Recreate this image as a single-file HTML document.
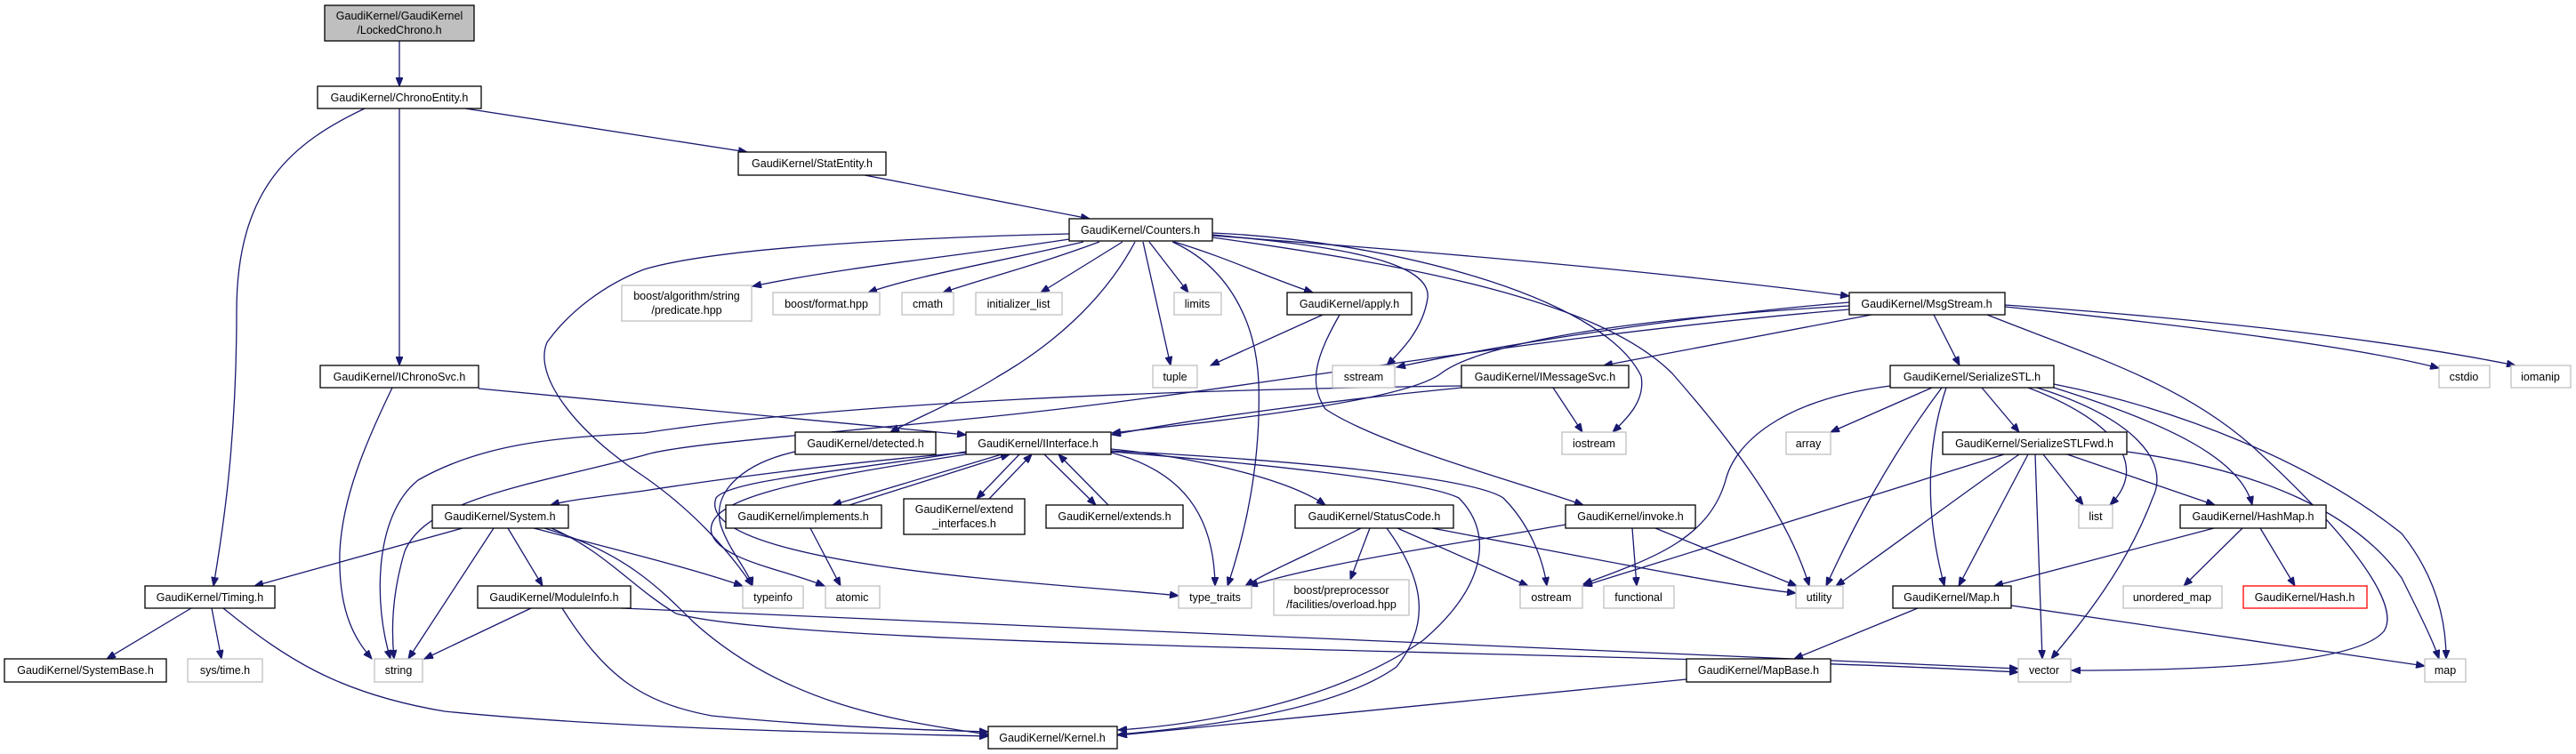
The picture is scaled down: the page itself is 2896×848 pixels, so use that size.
<!DOCTYPE html>
<html><head><meta charset="utf-8"><style>
html,body{margin:0;padding:0;background:#fff;}
svg{display:block;}
text{font-family:"Liberation Sans",Arial,sans-serif;font-size:12.5px;fill:#000;text-anchor:middle;}
.n{fill:#fff;stroke:#000;stroke-width:1.3;}
.x{fill:#fff;stroke:#bfbfbf;stroke-width:1.3;}
.r{fill:#fff;stroke:#ff0000;stroke-width:1.3;}
.g{fill:#bfbfbf;stroke:#000;stroke-width:1.3;}
.e{fill:none;stroke:#191970;stroke-width:1.3;marker-end:url(#a);}
</style></head><body>
<svg width="2896" height="848" viewBox="0 0 2896 848" xmlns="http://www.w3.org/2000/svg">
<defs><marker id="a" markerUnits="userSpaceOnUse" markerWidth="11" markerHeight="8" refX="10" refY="4" orient="auto"><path d="M0,0 L10,4 L0,8 z" fill="#191970" stroke="#191970"/></marker></defs>

<!-- edges -->
<path class="e" d="M449,46 L449,97"/>
<path class="e" d="M410,122 C330,160 266,210 266,350 C266,500 250,600 240,659"/>
<path class="e" d="M449,122 L449,411"/>
<path class="e" d="M523,122 L840,171"/>
<path class="e" d="M972,197 L1225,246"/>
<path class="e" d="M1202,269 C1100,285 950,300 846,322"/>
<path class="e" d="M1218,272 C1120,295 1030,310 976,329"/>
<path class="e" d="M1236,272 C1160,300 1100,315 1060,329"/>
<path class="e" d="M1262,272 L1170,329"/>
<path class="e" d="M1292,272 L1336,329"/>
<path class="e" d="M1285,272 L1316,411"/>
<path class="e" d="M1318,272 C1380,300 1412,360 1415,430 C1418,520 1400,600 1380,659"/>
<path class="e" d="M1202,263 C1000,268 800,280 724,303 C680,320 640,350 615,385 C600,420 640,480 724,536 C780,575 820,620 846,659"/>
<path class="e" d="M1276,272 C1240,340 1180,390 1121,424 C1080,450 1030,470 1001,486"/>
<path class="e" d="M1320,272 C1380,290 1420,310 1476,329"/>
<path class="e" d="M1363,264 C1480,275 1610,290 1605,335 C1600,370 1575,395 1559,411"/>
<path class="e" d="M1363,262 C1550,270 1800,330 1845,423 C1850,450 1830,470 1813,486"/>
<path class="e" d="M1363,267 C1600,300 1800,340 1880,420 C1950,500 2010,580 2034,659"/>
<path class="e" d="M1363,265 C1700,290 1900,310 2079,333"/>
<path class="e" d="M1487,354 L1361,411"/>
<path class="e" d="M1506,354 C1480,400 1470,430 1490,460 C1550,500 1700,540 1780,568"/>
<path class="e" d="M2079,340 C1900,355 1700,385 1570,413"/>
<path class="e" d="M2104,354 L1803,411"/>
<path class="e" d="M2174,354 L2203,411"/>
<path class="e" d="M2254,345 C2450,365 2650,390 2742,414"/>
<path class="e" d="M2254,343 C2500,360 2700,385 2828,411"/>
<path class="e" d="M2234,354 C2350,400 2450,430 2530,500 C2640,600 2700,680 2680,710 C2650,745 2500,754 2329,754"/>
<path class="e" d="M2079,344 C1800,360 1660,390 1620,420 C1580,450 1400,470 1250,487"/>
<path class="e" d="M1643,436 C1500,450 1350,470 1250,489"/>
<path class="e" d="M1643,434 C1200,440 900,460 724,487 C620,492 540,500 470,540 C420,580 420,680 439,741"/>
<path class="e" d="M2079,348 C1700,380 1400,440 1100,470 C900,490 760,500 724,512 C600,545 480,560 455,620 C440,670 440,710 443,741"/>
<path class="e" d="M1746,436 L1779,486"/>
<path class="e" d="M441,436 C410,500 385,560 382,620 C380,690 400,720 418,741"/>
<path class="e" d="M538,437 L1086,489"/>
<path class="e" d="M1086,509 C950,520 800,540 724,552 C680,558 640,562 619,568"/>
<path class="e" d="M1126,511 L936,568"/>
<path class="e" d="M955,568 L1135,511"/>
<path class="e" d="M1146,511 L1098,561"/>
<path class="e" d="M1112,561 L1160,511"/>
<path class="e" d="M1174,511 L1232,568"/>
<path class="e" d="M1246,568 L1190,511"/>
<path class="e" d="M1249,509 C1330,530 1365,580 1366,659"/>
<path class="e" d="M894,508 C840,520 800,550 810,590 C820,620 840,640 846,659"/>
<path class="e" d="M1086,508 C950,530 820,540 805,560 C790,600 900,630 1100,650 C1200,660 1280,665 1325,670"/>
<path class="e" d="M1086,511 C900,540 790,560 800,600 C810,630 880,640 927,659"/>
<path class="e" d="M911,594 L945,659"/>
<path class="e" d="M1249,505 C1350,515 1450,540 1490,568"/>
<path class="e" d="M1249,507 C1500,520 1660,540 1690,560 C1720,590 1735,630 1739,659"/>
<path class="e" d="M1249,508 C1400,520 1600,540 1640,560 C1680,600 1670,660 1600,720 C1500,790 1350,815 1257,821"/>
<path class="e" d="M520,594 L286,659"/>
<path class="e" d="M555,594 L459,741"/>
<path class="e" d="M571,594 L610,659"/>
<path class="e" d="M600,594 C700,620 780,640 835,659"/>
<path class="e" d="M612,594 C700,620 740,660 780,700 C880,790 1000,810 1111,826"/>
<path class="e" d="M620,594 C680,620 710,660 760,690 C900,730 1800,730 2269,756"/>
<path class="e" d="M597,684 L477,741"/>
<path class="e" d="M632,684 C680,760 720,790 800,805 C900,815 1000,820 1111,823"/>
<path class="e" d="M699,684 C1000,700 1600,725 2269,752"/>
<path class="e" d="M215,684 L120,741"/>
<path class="e" d="M238,684 L249,741"/>
<path class="e" d="M251,684 C320,740 380,780 500,800 C700,820 950,824 1111,828"/>
<path class="e" d="M1530,594 C1480,620 1430,640 1400,659"/>
<path class="e" d="M1540,594 L1518,652"/>
<path class="e" d="M1571,594 L1718,659"/>
<path class="e" d="M1610,594 C1800,630 1950,660 2019,667"/>
<path class="e" d="M1559,594 C1600,650 1610,700 1570,750 C1500,800 1350,818 1257,826"/>
<path class="e" d="M1760,590 C1650,610 1500,630 1404,659"/>
<path class="e" d="M1835,594 L1840,659"/>
<path class="e" d="M1861,594 L2020,659"/>
<path class="e" d="M2172,436 L2058,486"/>
<path class="e" d="M2125,434 C2000,450 1950,500 1940,540 C1920,610 1850,630 1780,657"/>
<path class="e" d="M2183,436 C2120,520 2080,600 2053,659"/>
<path class="e" d="M2188,436 C2160,520 2170,600 2186,659"/>
<path class="e" d="M2228,436 L2270,486"/>
<path class="e" d="M2280,436 C2370,470 2420,520 2372,568"/>
<path class="e" d="M2309,436 C2450,480 2520,520 2532,568"/>
<path class="e" d="M2290,436 C2400,470 2440,520 2420,560 C2390,640 2340,700 2306,741"/>
<path class="e" d="M2309,432 C2450,460 2600,520 2700,600 C2740,650 2750,700 2750,741"/>
<path class="e" d="M2253,511 C2100,560 1900,620 1780,659"/>
<path class="e" d="M2270,511 C2200,560 2120,620 2064,659"/>
<path class="e" d="M2280,511 L2202,659"/>
<path class="e" d="M2288,511 L2296,741"/>
<path class="e" d="M2297,511 L2342,568"/>
<path class="e" d="M2324,511 L2490,568"/>
<path class="e" d="M2391,508 C2550,530 2650,580 2700,650 C2720,690 2735,720 2742,741"/>
<path class="e" d="M2489,594 L2242,659"/>
<path class="e" d="M2521,594 L2455,659"/>
<path class="e" d="M2541,594 L2580,659"/>
<path class="e" d="M2261,681 L2726,749"/>
<path class="e" d="M2156,684 L2017,741"/>
<path class="e" d="M1896,764 L1257,827"/>

<!-- nodes -->
<rect class="g" x="365" y="6" width="168" height="40"/><text x="449" y="22">GaudiKernel/GaudiKernel</text><text x="449" y="38">/LockedChrono.h</text>
<rect class="n" x="357" y="97" width="184" height="25"/><text x="449" y="114">GaudiKernel/ChronoEntity.h</text>
<rect class="n" x="830" y="171" width="166" height="26"/><text x="913" y="188">GaudiKernel/StatEntity.h</text>
<rect class="n" x="1202" y="246" width="161" height="25"/><text x="1282" y="263">GaudiKernel/Counters.h</text>
<rect class="x" x="699" y="321" width="146" height="40"/><text x="772" y="337">boost/algorithm/string</text><text x="772" y="353">/predicate.hpp</text>
<rect class="x" x="869" y="329" width="120" height="25"/><text x="929" y="346">boost/format.hpp</text>
<rect class="x" x="1014" y="329" width="58" height="25"/><text x="1043" y="346">cmath</text>
<rect class="x" x="1097" y="329" width="97" height="25"/><text x="1145" y="346">initializer_list</text>
<rect class="x" x="1320" y="329" width="53" height="25"/><text x="1346" y="346">limits</text>
<rect class="n" x="1447" y="329" width="140" height="25"/><text x="1517" y="346">GaudiKernel/apply.h</text>
<rect class="n" x="2079" y="329" width="175" height="25"/><text x="2166" y="346">GaudiKernel/MsgStream.h</text>
<rect class="x" x="1296" y="411" width="50" height="25"/><text x="1321" y="428">tuple</text>
<rect class="x" x="1498" y="411" width="70" height="25"/><text x="1533" y="428">sstream</text>
<rect class="n" x="1643" y="411" width="188" height="25"/><text x="1737" y="428">GaudiKernel/IMessageSvc.h</text>
<rect class="n" x="360" y="411" width="178" height="25"/><text x="449" y="428">GaudiKernel/IChronoSvc.h</text>
<rect class="n" x="2125" y="411" width="184" height="25"/><text x="2217" y="428">GaudiKernel/SerializeSTL.h</text>
<rect class="x" x="2742" y="411" width="57" height="25"/><text x="2770" y="428">cstdio</text>
<rect class="x" x="2823" y="411" width="67" height="25"/><text x="2856" y="428">iomanip</text>
<rect class="n" x="894" y="486" width="158" height="25"/><text x="973" y="503">GaudiKernel/detected.h</text>
<rect class="n" x="1086" y="486" width="163" height="25"/><text x="1167" y="503">GaudiKernel/IInterface.h</text>
<rect class="x" x="1756" y="486" width="72" height="25"/><text x="1792" y="503">iostream</text>
<rect class="x" x="2008" y="486" width="50" height="25"/><text x="2033" y="503">array</text>
<rect class="n" x="2184" y="486" width="207" height="25"/><text x="2287" y="503">GaudiKernel/SerializeSTLFwd.h</text>
<rect class="n" x="486" y="568" width="153" height="26"/><text x="562" y="585">GaudiKernel/System.h</text>
<rect class="n" x="816" y="568" width="175" height="26"/><text x="903" y="585">GaudiKernel/implements.h</text>
<rect class="n" x="1016" y="561" width="136" height="40"/><text x="1084" y="577">GaudiKernel/extend</text><text x="1084" y="593">_interfaces.h</text>
<rect class="n" x="1176" y="568" width="154" height="26"/><text x="1253" y="585">GaudiKernel/extends.h</text>
<rect class="n" x="1456" y="568" width="178" height="26"/><text x="1545" y="585">GaudiKernel/StatusCode.h</text>
<rect class="n" x="1760" y="568" width="146" height="26"/><text x="1833" y="585">GaudiKernel/invoke.h</text>
<rect class="x" x="2337" y="568" width="38" height="26"/><text x="2356" y="585">list</text>
<rect class="n" x="2451" y="568" width="164" height="26"/><text x="2533" y="585">GaudiKernel/HashMap.h</text>
<rect class="n" x="163" y="659" width="146" height="25"/><text x="236" y="676">GaudiKernel/Timing.h</text>
<rect class="n" x="537" y="659" width="172" height="25"/><text x="623" y="676">GaudiKernel/ModuleInfo.h</text>
<rect class="x" x="835" y="659" width="68" height="25"/><text x="869" y="676">typeinfo</text>
<rect class="x" x="928" y="659" width="61" height="25"/><text x="958" y="676">atomic</text>
<rect class="x" x="1325" y="659" width="82" height="25"/><text x="1366" y="676">type_traits</text>
<rect class="x" x="1432" y="652" width="152" height="40"/><text x="1508" y="668">boost/preprocessor</text><text x="1508" y="684">/facilities/overload.hpp</text>
<rect class="x" x="1709" y="659" width="70" height="25"/><text x="1744" y="676">ostream</text>
<rect class="x" x="1803" y="659" width="79" height="25"/><text x="1842" y="676">functional</text>
<rect class="x" x="2019" y="659" width="53" height="25"/><text x="2045" y="676">utility</text>
<rect class="n" x="2128" y="659" width="133" height="25"/><text x="2194" y="676">GaudiKernel/Map.h</text>
<rect class="x" x="2387" y="659" width="111" height="25"/><text x="2442" y="676">unordered_map</text>
<rect class="r" x="2522" y="659" width="139" height="25"/><text x="2591" y="676">GaudiKernel/Hash.h</text>
<rect class="n" x="5" y="741" width="182" height="26"/><text x="96" y="758">GaudiKernel/SystemBase.h</text>
<rect class="x" x="211" y="741" width="84" height="26"/><text x="253" y="758">sys/time.h</text>
<rect class="x" x="421" y="741" width="54" height="26"/><text x="448" y="758">string</text>
<rect class="n" x="1896" y="741" width="162" height="26"/><text x="1977" y="758">GaudiKernel/MapBase.h</text>
<rect class="x" x="2269" y="741" width="59" height="26"/><text x="2298" y="758">vector</text>
<rect class="x" x="2726" y="741" width="46" height="26"/><text x="2749" y="758">map</text>
<rect class="n" x="1111" y="817" width="145" height="25"/><text x="1183" y="834">GaudiKernel/Kernel.h</text>
</svg>
</body></html>
